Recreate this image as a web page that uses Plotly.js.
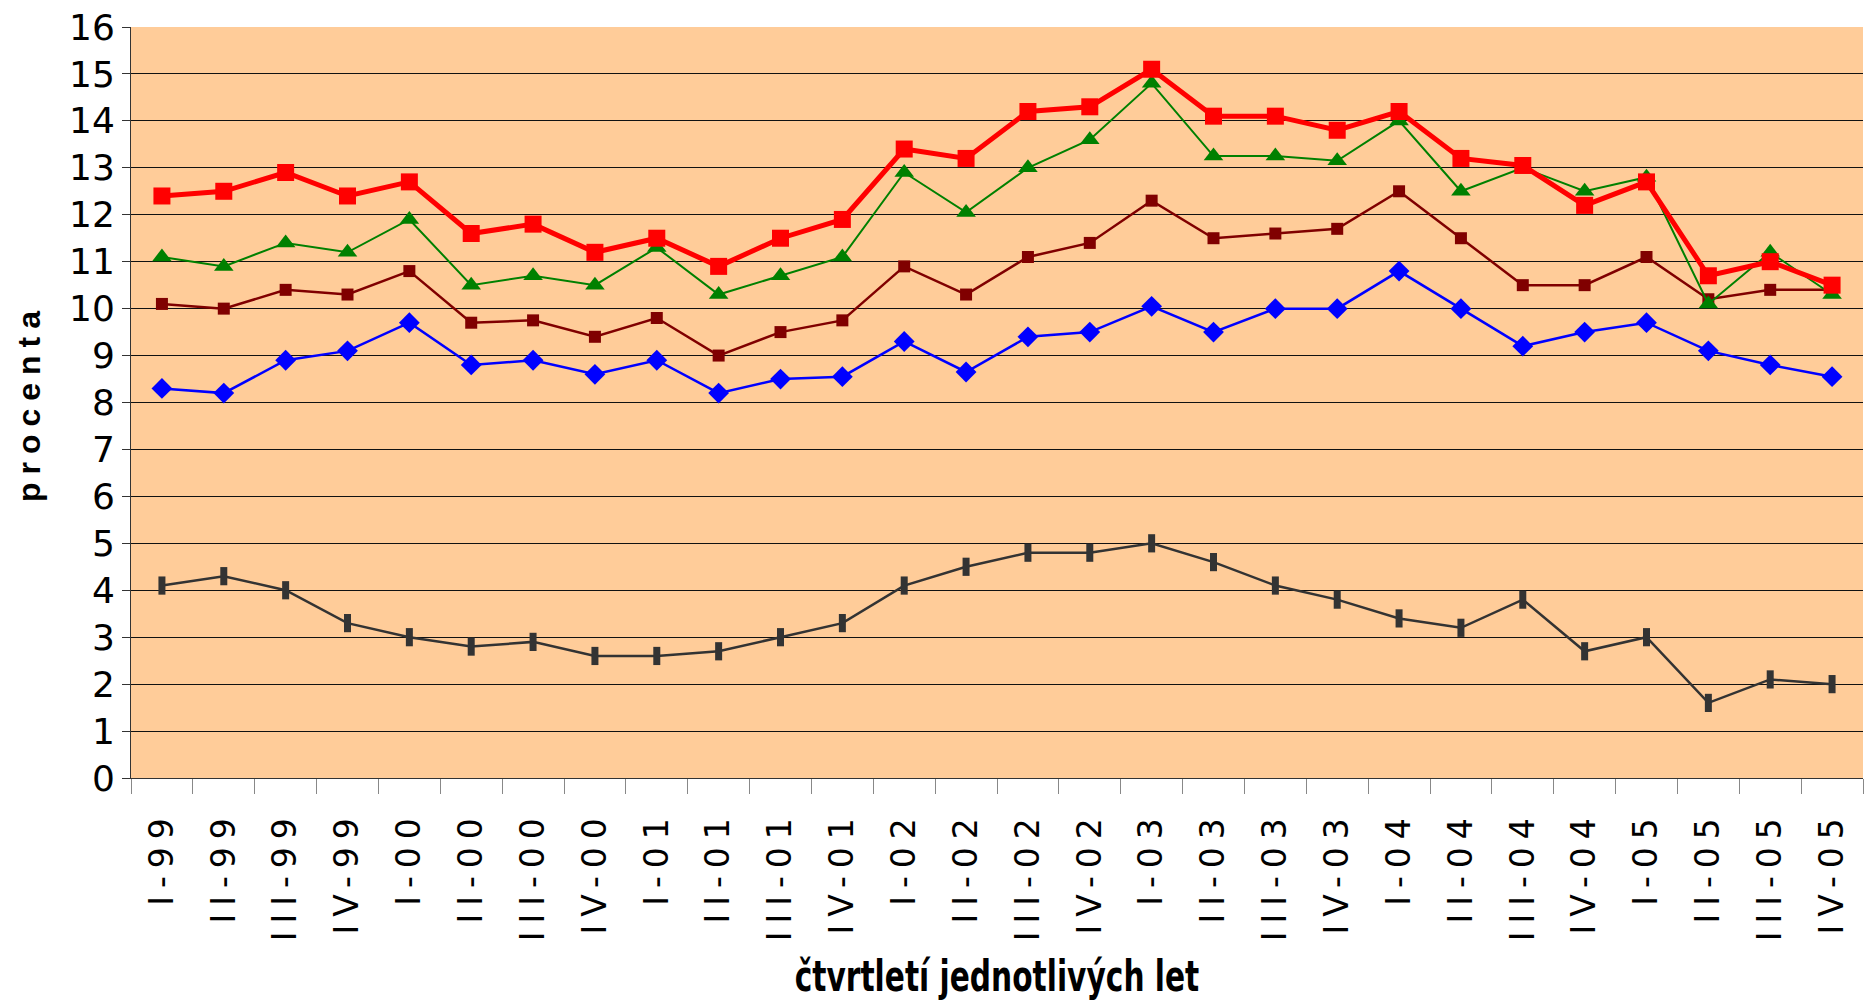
<!DOCTYPE html>
<html>
<head>
<meta charset="utf-8">
<script src="https://cdn.plot.ly/plotly-3.0.1.min.js"></script>
<style>
  html, body { margin: 0; padding: 0; background: #fff; }
  #chart { width: 1865px; height: 1001px; }
  .xtick text { letter-spacing: 8px; }
  .g-ytitle text { letter-spacing: 8px; }
  .g-xtitle text { transform-box: fill-box; transform-origin: center; transform: scaleX(0.69); }
</style>
</head>
<body>
<div id="chart"></div>
<script>
const quarters = ["I-99","II-99","III-99","IV-99","I-00","II-00","III-00","IV-00",
  "I-01","II-01","III-01","IV-01","I-02","II-02","III-02","IV-02",
  "I-03","II-03","III-03","IV-03","I-04","II-04","III-04","IV-04",
  "I-05","II-05","III-05","IV-05"];

const seriesGray = [4.1,4.3,4.0,3.3,3.0,2.8,2.9,2.6,2.6,2.7,3.0,3.3,4.1,4.5,4.8,4.8,
  5.0,4.6,4.1,3.8,3.4,3.2,3.8,2.7,3.0,1.6,2.1,2.0];
const seriesBlue = [8.3,8.2,8.9,9.1,9.7,8.8,8.9,8.6,8.9,8.2,8.5,8.55,9.3,8.65,9.4,9.5,
  10.05,9.5,10.0,10.0,10.8,10.0,9.2,9.5,9.7,9.1,8.8,8.55];
const seriesDarkRed = [10.1,10.0,10.4,10.3,10.8,9.7,9.75,9.4,9.8,9.0,9.5,9.75,10.9,10.3,11.1,11.4,
  12.3,11.5,11.6,11.7,12.5,11.5,10.5,10.5,11.1,10.2,10.4,10.4];
const seriesGreen = [11.1,10.9,11.4,11.2,11.9,10.5,10.7,10.5,11.3,10.3,10.7,11.1,12.9,12.05,13.0,13.6,
  14.8,13.25,13.25,13.15,14.0,12.5,13.0,12.5,12.8,10.1,11.2,10.3];
const seriesRed = [12.4,12.5,12.9,12.4,12.7,11.6,11.8,11.2,11.5,10.9,11.5,11.9,13.4,13.2,14.2,14.3,
  15.1,14.1,14.1,13.8,14.2,13.2,13.05,12.2,12.7,10.7,11.0,10.5];

const yTicks = [0,1,2,3,4,5,6,7,8,9,10,11,12,13,14,15,16];

const narrow = '"Liberation Sans Narrow", "Arial Narrow", "DejaVu Sans", sans-serif';

const traces = [
  {x: quarters, y: seriesGray, type: 'scatter', mode: 'lines+markers',
   line: {color: '#333333', width: 2.5},
   marker: {symbol: 'line-ns', size: 13, line: {color: '#333333', width: 7}}},
  {x: quarters, y: seriesBlue, type: 'scatter', mode: 'lines+markers',
   line: {color: '#0000FF', width: 2.5},
   marker: {symbol: 'diamond', size: 16, color: '#0000FF'}},
  {x: quarters, y: seriesDarkRed, type: 'scatter', mode: 'lines+markers',
   line: {color: '#800000', width: 2.5},
   marker: {symbol: 'square', size: 12, color: '#800000'}},
  {x: quarters, y: seriesGreen, type: 'scatter', mode: 'lines+markers',
   line: {color: '#008000', width: 2},
   marker: {symbol: 'triangle-up', size: 17, color: '#008000'}},
  {x: quarters, y: seriesRed, type: 'scatter', mode: 'lines+markers',
   line: {color: '#FF0000', width: 5},
   marker: {symbol: 'square', size: 17, color: '#FF0000'}}
];

const layout = {
  width: 1865, height: 1001,
  margin: {l: 131, r: 2, t: 27, b: 223},
  paper_bgcolor: '#ffffff',
  plot_bgcolor: '#FFCC99',
  showlegend: false,
  xaxis: {
    type: 'category',
    range: [-0.5, quarters.length - 0.5],
    autorange: false,
    tickmode: 'array', tickvals: quarters, ticktext: quarters,
    tickangle: -90,
    tickson: 'boundaries',
    ticks: 'outside', ticklen: 15, tickcolor: '#888888', tickwidth: 1,
    ticklabelstandoff: 18,
    showline: true, linecolor: '#333333', linewidth: 1,
    showgrid: false, zeroline: false,
    tickfont: {family: narrow, size: 33, color: '#000000'},
    title: {text: 'čtvrtletí jednotlivých let',
            font: {family: narrow, size: 43, color: '#000000', weight: 'bold'},
            standoff: 24}
  },
  yaxis: {
    range: [0, 16],
    autorange: false,
    tickmode: 'array', tickvals: yTicks, ticktext: yTicks.map(String),
    ticks: 'outside', ticklen: 8, tickcolor: '#333333',
    showline: true, linecolor: '#333333', linewidth: 1,
    showgrid: true, gridcolor: '#111111', gridwidth: 1,
    zeroline: false,
    tickfont: {family: narrow, size: 36, color: '#000000'},
    title: {text: 'procenta',
            font: {family: '"Liberation Sans", Arial, sans-serif', size: 32, color: '#000000', weight: 'bold'},
            standoff: 18}
  }
};

Plotly.newPlot('chart', traces, layout, {displayModeBar: false, staticPlot: true});
</script>
</body>
</html>
